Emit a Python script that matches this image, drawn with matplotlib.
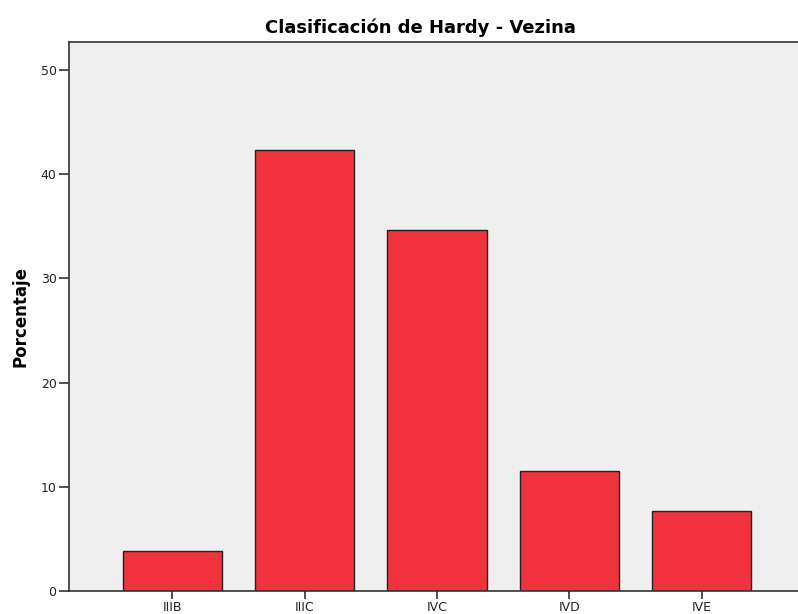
import matplotlib.pyplot as plt
import numpy as np

# datos (porcentajes, n = 26)
categorias = ['IIIB', 'IIIC', 'IVC', 'IVD', 'IVE']
porcentaje = [3.85, 42.31, 34.62, 11.54, 7.69]

BAR_COLOR = '#F0323C'
BG_COLOR = '#EFEFEF'
EDGE = '#222222'

fig = plt.figure(figsize=(7.98, 6.14), dpi=100)
ax = fig.add_axes([0.0865, 0.0375, 0.922, 0.894])
ax.set_facecolor(BG_COLOR)

x = np.arange(len(categorias))
ax.bar(x, porcentaje, width=0.75, color=BAR_COLOR, edgecolor=EDGE, linewidth=1.0, zorder=2)

ax.set_xlim(-0.78, 4.78)
ax.set_ylim(0, 52.7)
ax.set_yticks([0, 10, 20, 30, 40, 50])
ax.set_xticks(x)
ax.set_xticklabels(categorias)

for s in ['left', 'bottom', 'top', 'right']:
    ax.spines[s].set_color('#333333')
    ax.spines[s].set_linewidth(1.2)

ax.tick_params(axis='y', length=7, width=1.2, color='#333333', labelsize=9, pad=2, labelcolor='#222222')
ax.tick_params(axis='x', length=6, width=1.2, color='#333333', labelsize=9, pad=1, labelcolor='#222222')

ax.set_ylabel('Porcentaje', fontsize=12, fontweight='bold', labelpad=8)
fig.text(420 / 798, 1 - 28 / 614, 'Clasificación de Hardy - Vezina', ha='center', va='center',
         fontsize=13, fontweight='bold')

fig.savefig('out.png', dpi=100)
